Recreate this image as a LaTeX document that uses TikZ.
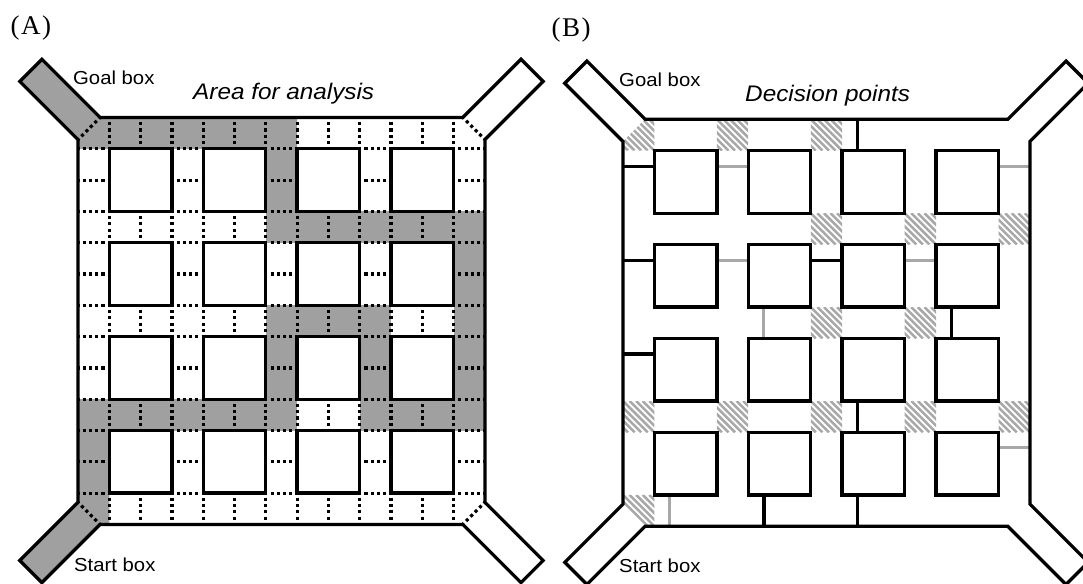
\documentclass[tikz,border=0pt]{standalone}
\usepackage{fontspec}
\setmainfont{Liberation Serif}
\newfontfamily\labelsans[FakeStretch=1.08]{Liberation Sans}

\definecolor{pathgray}{RGB}{160,160,160}
\definecolor{hatchgray}{RGB}{168,168,168}
\definecolor{doorgray}{RGB}{168,168,168}

\tikzset{
  wall/.style={draw=black, line width=3.3pt, line join=miter},
  cellrule/.style={line width=3.2pt, line cap=butt, dash pattern=on 3.1pt off 3.16pt, dash phase=1.55pt},
  doorshut/.style={line width=3.3pt, black},
  dooropen/.style={line width=3pt, doorgray},
  stripe/.style={line width=2.5pt, hatchgray},
  walk/.style={fill=pathgray},
  panelmark/.style={inner sep=0pt, anchor=base west, font=\fontsize{27}{30}\selectfont},
  boxlabel/.style={inner sep=0pt, anchor=base west, font=\labelsans\fontsize{18.8}{22}\selectfont},
  headline/.style={inner sep=0pt, anchor=base west, font=\labelsans\itshape\fontsize{22.5}{26}\selectfont},
}

\def\ca{0.7071}% chamfer leg (one cell wide across the diagonal)
\def\cd{1.86}% run of each arm along x and y

% outer wall of the maze with its four arms
\newcommand\mazewall{%
  \draw[wall] (\ca,0) -- ({13-\ca},0) -- ({13-\ca+\cd},-\cd) -- ({13+\cd},{\ca-\cd}) -- (13,\ca)
   -- (13,{13-\ca}) -- ({13+\cd},{13-\ca+\cd}) -- ({13-\ca+\cd},{13+\cd}) -- ({13-\ca},13)
   -- (\ca,13) -- ({\ca-\cd},{13+\cd}) -- (-\cd,{13-\ca+\cd}) -- (0,{13-\ca})
   -- (0,\ca) -- (-\cd,{\ca-\cd}) -- ({\ca-\cd},-\cd) -- cycle;}

% the sixteen blocks
\newcommand\mazeblocks{%
  \foreach \i in {1,4,7,10} \foreach \j in {1,4,7,10}
    \draw[wall] (\i,\j) rectangle +(2,2);}

% diagonal stripes over one cell (clip set by caller)
\newcommand\stripes[2]{%
  \foreach \t in {-1.05,-0.84,...,1.05}
    \draw[stripe] ({#1+\t},#2) -- ({#1+\t+1},{#2+1});}

\newcommand\hatchcell[2]{%
  \begin{scope}\clip (#1,#2) rectangle +(1,1); \stripes{#1}{#2}\end{scope}}

\begin{document}
\begin{tikzpicture}[x=1pt,y=-1pt]
\useasboundingbox (0,0) rectangle (1083,583);
\fill[white] (0,0) rectangle (1083,583);

% ---------------- panel A: area for analysis ----------------
\begin{scope}[shift={(78pt,-117.5pt)}, x=31.3pt, y=-31.3pt]
  % shaded route from start box to goal box
  \fill[walk] (\ca,0) -- ({\ca-\cd},-\cd) -- (-\cd,{\ca-\cd}) -- (0,\ca) -- cycle;
  \fill[walk] (0,\ca) -- (\ca,0) -- (7,0) -- (7,1) -- (0,1) -- cycle;
  \fill[walk] (6,1) rectangle (7,3);
  \fill[walk] (6,3) rectangle (13,4);
  \fill[walk] (12,4) rectangle (13,6);
  \fill[walk] (6,6) rectangle (10,7);
  \fill[walk] (12,6) rectangle (13,7);
  \fill[walk] (6,7) rectangle (7,9);
  \fill[walk] (9,7) rectangle (10,9);
  \fill[walk] (12,7) rectangle (13,9);
  \fill[walk] (0,9) rectangle (7,10);
  \fill[walk] (9,9) rectangle (13,10);
  \fill[walk] (0,10) rectangle (1,12);
  \fill[walk] (0,12) -- (1,12) -- (1,13) -- (\ca,13) -- (0,{13-\ca}) -- cycle;
  \fill[walk] (\ca,13) -- ({\ca-\cd},{13+\cd}) -- (-\cd,{13-\ca+\cd}) -- (0,{13-\ca}) -- cycle;
  % dotted cell borders in the corridors
  \foreach \r in {0,3,6,9,12} \foreach \i in {1,...,12}
    \draw[cellrule] (\i,\r) -- (\i,\r+1);
  \foreach \c in {0,3,6,9,12} \foreach \j in {1,...,12}
    \draw[cellrule] (\c,\j) -- (\c+1,\j);
  \draw[cellrule] (0,\ca) -- (\ca,0);
  \draw[cellrule] ({13-\ca},0) -- (13,\ca);
  \draw[cellrule] (13,{13-\ca}) -- ({13-\ca},13);
  \draw[cellrule] (\ca,13) -- (0,{13-\ca});
  \mazeblocks
  \mazewall
\end{scope}

% ---------------- panel B: decision points ----------------
\begin{scope}[shift={(623pt,-119.3pt)}, x=31.3pt, y=-31.3pt]
  % decision points
  \begin{scope}\clip (0,\ca) -- (\ca,0) -- (1,0) -- (1,1) -- (0,1) -- cycle; \stripes{0}{0}\end{scope}
  \hatchcell{3}{0}
  \hatchcell{6}{0}
  \hatchcell{6}{3}
  \hatchcell{9}{3}
  \hatchcell{12}{3}
  \hatchcell{6}{6}
  \hatchcell{9}{6}
  \hatchcell{0}{9}
  \hatchcell{3}{9}
  \hatchcell{6}{9}
  \hatchcell{9}{9}
  \hatchcell{12}{9}
  \begin{scope}\clip (0,12) -- (1,12) -- (1,13) -- (\ca,13) -- (0,{13-\ca}) -- cycle; \stripes{0}{12}\end{scope}
  % closed doors
  \draw[doorshut] (0,1.5) -- (1,1.5);
  \draw[doorshut] (7.5,0) -- (7.5,1);
  \draw[doorshut] (0,4.5) -- (1,4.5);
  \draw[doorshut] (6,4.5) -- (7,4.5);
  \draw[doorshut] (10.5,6) -- (10.5,7);
  \draw[doorshut] (0,7.5) -- (1,7.5);
  \draw[doorshut] (7.5,9) -- (7.5,10);
  \draw[doorshut] (4.5,12) -- (4.5,13);
  \draw[doorshut] (7.5,12) -- (7.5,13);
  % open doors
  \draw[dooropen] (3,1.5) -- (4,1.5);
  \draw[dooropen] (12,1.5) -- (13,1.5);
  \draw[dooropen] (3,4.5) -- (4,4.5);
  \draw[dooropen] (9,4.5) -- (10,4.5);
  \draw[dooropen] (4.5,6) -- (4.5,7);
  \draw[dooropen] (12,10.5) -- (13,10.5);
  \draw[dooropen] (1.5,12) -- (1.5,13);
  \mazeblocks
  \mazewall
\end{scope}

% ---------------- labels ----------------
\node[panelmark] (markA) at (10.5,35) {(\kern1.5pt A\kern1.5pt)};
\node[panelmark] (markB) at (551.5,37) {(\kern1.5pt B\kern1.5pt)};
\node[boxlabel] (goalA) at (73,85) {Goal box};
\node[boxlabel] (startA) at (74,571) {Start box};
\node[headline] (areaA) at (193,100) {Area for analysis};
\node[boxlabel] (goalB) at (619,87) {Goal box};
\node[boxlabel] (startB) at (619,572) {Start box};
\node[headline] (decB) at (745,102) {Decision points};
\end{tikzpicture}
\end{document}
